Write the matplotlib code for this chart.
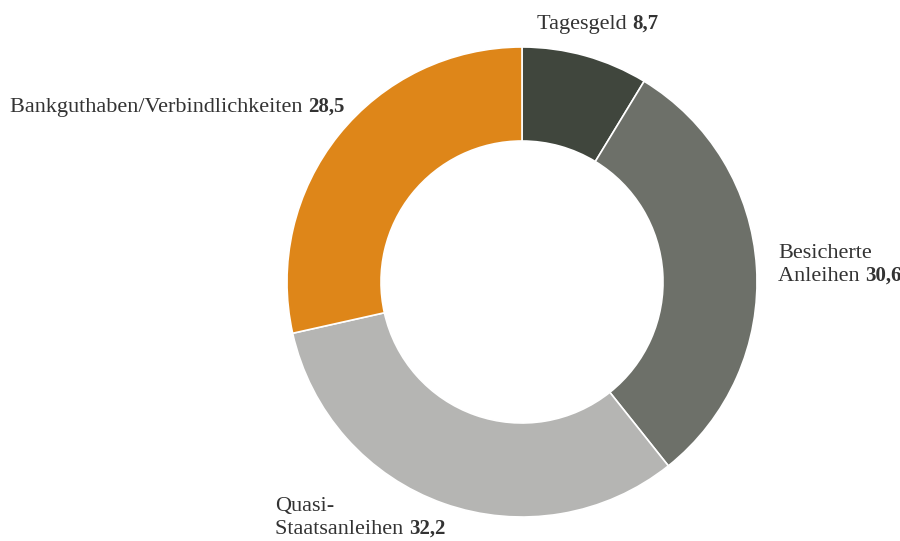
import matplotlib.pyplot as plt

# Data
labels = ["Tagesgeld", "Besicherte\nAnleihen", "Quasi-\nStaatsanleihen", "Bankguthaben/Verbindlichkeiten"]
values = [8.7, 30.6, 32.2, 28.5]
value_labels = ["8,7", "30,6", "32,2", "28,5"]
colors = ["#40463d", "#6d7069", "#b5b5b3", "#de8619"]

W, H = 900, 541
fig = plt.figure(figsize=(W / 100, H / 100), dpi=100)

# donut centred at (522, 282) px with radius 235 px
cx, cy, r = 522, 282, 235
ax = fig.add_axes([(cx - r) / W, (H - cy - r) / H, 2 * r / W, 2 * r / H])
ax.pie(values, colors=colors, startangle=90, counterclock=False,
       wedgeprops=dict(width=0.4, edgecolor="white", linewidth=1.2))
ax.set_xlim(-1, 1)
ax.set_ylim(-1, 1)
ax.axis("off")

font = dict(family="Liberation Serif", color="#333333")

# label anchors: (x px, baseline y px of last line)
anchors = [(537, 29), (778, 281), (275, 534), (10, 112)]
line_h = 23

for lab, val, (x, y) in zip(labels, value_labels, anchors):
    lines = lab.split("\n")
    for i, line in enumerate(lines[:-1]):
        fig.text(x / W, 1 - (y - line_h * (len(lines) - 1 - i)) / H, line,
                 va="baseline", ha="left", size=16, **font)
    t = fig.text(x / W, 1 - y / H, lines[-1] + " ", va="baseline", ha="left", size=16, **font)
    fig.canvas.draw()
    bb = t.get_window_extent()
    fig.text(bb.x1 / W, 1 - y / H, val, va="baseline", ha="left",
             fontweight="bold", size=15, **font)

fig.savefig("out.png", dpi=100)
